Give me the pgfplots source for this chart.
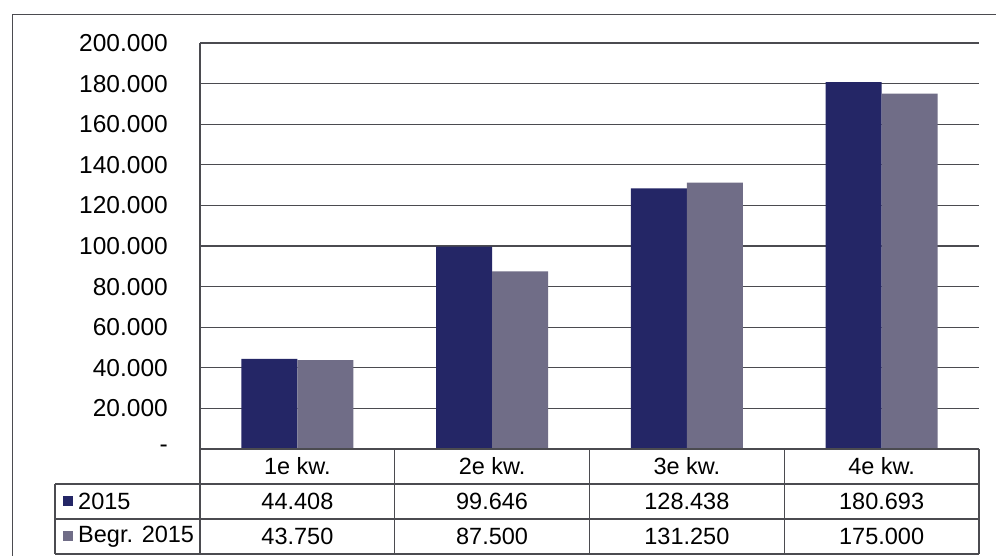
\documentclass[border=0pt]{standalone}
\usepackage{pgfplots}
\pgfplotsset{compat=1.18}
\usepackage{fontspec}
\setmainfont{Liberation Sans}
\definecolor{navy}{RGB}{36,38,102}
\definecolor{greyp}{RGB}{112,109,135}
\definecolor{gridc}{RGB}{75,75,80}
\begin{document}
\fontsize{23.5}{28}\selectfont
\begin{tikzpicture}[x=1pt,y=1pt]
\useasboundingbox[fill=white] (0,0) rectangle (996,556);
\draw[gridc, line width=1pt] (12,0) -- (12,541) -- (996,541);
\begin{axis}[
  at={(200pt,107pt)}, anchor=south west,
  scale only axis, width=779pt, height=406pt,
  xmin=0, xmax=4, ymin=0, ymax=200000,
  axis line style={draw=none},
  xtick=\empty,
  ytick={0,20000,...,200000},
  scaled y ticks=false,
  yticklabels={-\hspace{11pt},20.000,40.000,60.000,80.000,100.000,120.000,140.000,160.000,180.000,200.000},
  /pgf/number format/assume math mode=true,
  major tick length=0pt,
  yticklabel style={anchor=east, inner sep=0pt, xshift=-32pt, font=\fontsize{24.5}{28}\selectfont},
  ymajorgrids, grid style={gridc, line width=1.2pt},
  ybar=0pt, bar width=56pt,
  clip=false,
]
\addplot[fill=navy, draw=none] coordinates {(0.5,44408) (1.5,99646) (2.5,128438) (3.5,180693)};
\addplot[fill=greyp, draw=none] coordinates {(0.5,43750) (1.5,87500) (2.5,131250) (3.5,175000)};
\draw[gridc, line width=1.2pt] (axis cs:0,0) -- (axis cs:0,200000);
\end{axis}
% data table
\begin{scope}[gridc, line width=1.2pt]
\draw (200,107) -- (979,107);
\draw (55,72) -- (979,72);
\draw (55,37) -- (979,37);
\draw (55,2) -- (979,2);
\draw (55,72) -- (55,2);
\foreach \x in {200,394.75,589.5,784.25,979} \draw (\x,107) -- (\x,2);
\end{scope}
\foreach \x/\t in {297.4/1e kw.,492.1/2e kw.,686.9/3e kw.,881.6/4e kw.}
  \node[anchor=center, inner sep=0pt] at (\x,89.5) {\t};
\foreach \x/\a/\b in {297.4/44.408/43.750,492.1/99.646/87.500,686.9/128.438/131.250,881.6/180.693/175.000}{
  \node[anchor=center, inner sep=0pt] at (\x,54.5) {\a};
  \node[anchor=center, inner sep=0pt] at (\x,19.5) {\b};
}
\fill[navy] (63,49.5) rectangle (73,59.5);
\fill[greyp] (63,14.5) rectangle (73,24.5);
\node[anchor=west, inner sep=0pt] at (78,54.5) {2015};
\node[anchor=west, inner sep=0pt] at (78,19.5) {Begr. 2015};
\end{tikzpicture}
\end{document}
